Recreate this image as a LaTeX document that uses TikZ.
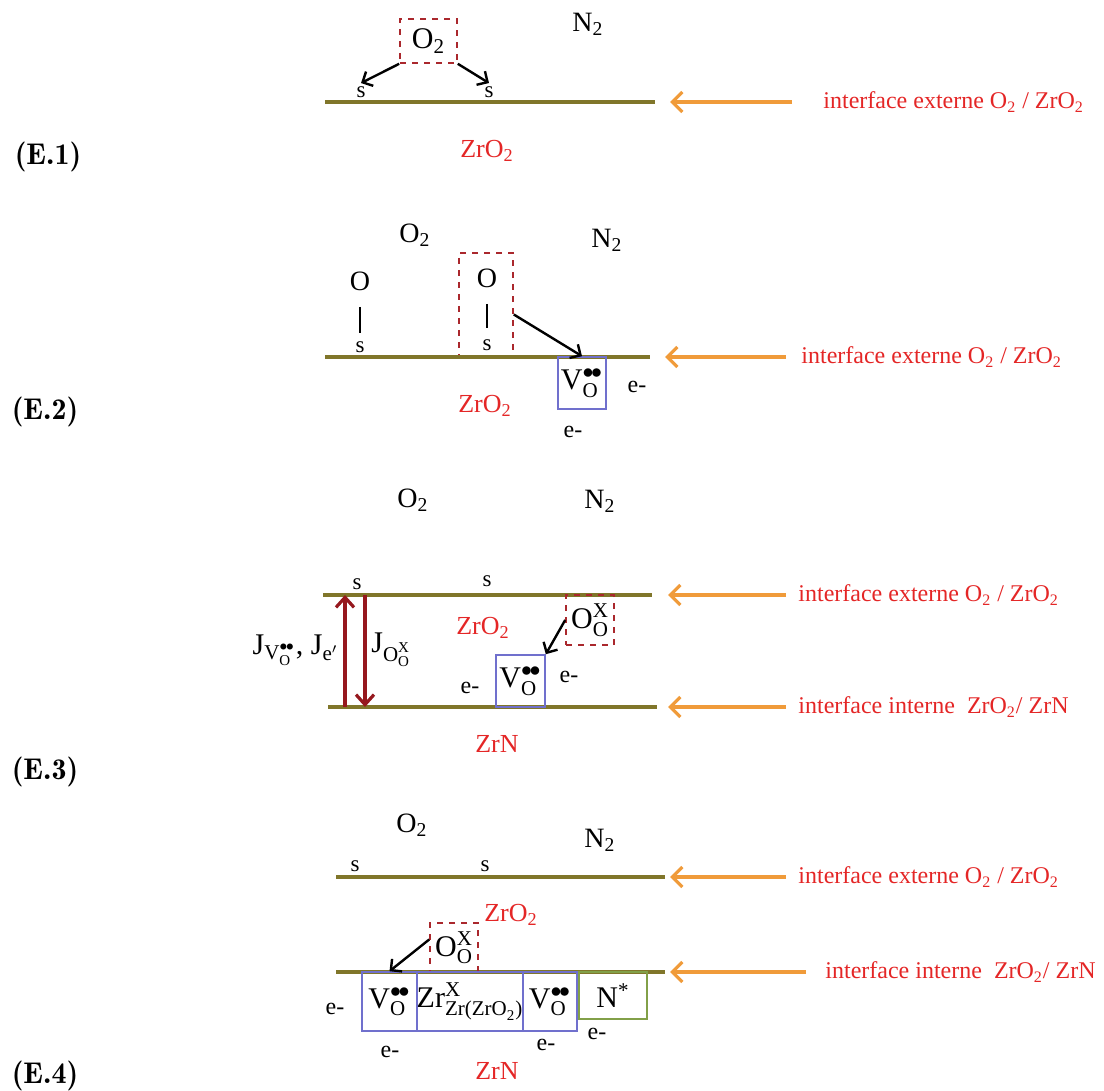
\documentclass[tikz,border=0pt]{standalone}
\usepackage{fontspec}
\usepackage{amsmath}
\setmainfont{Liberation Serif}
\usetikzlibrary{arrows.meta,positioning}
\definecolor{phred}{RGB}{228,38,38}
\definecolor{surfolive}{RGB}{128,118,42}
\definecolor{ifor}{RGB}{240,155,58}
\definecolor{dashred}{RGB}{170,40,45}
\definecolor{vacblue}{RGB}{112,112,205}
\definecolor{nitgreen}{RGB}{130,160,72}
\definecolor{fluxred}{RGB}{150,24,30}
\newcommand{\twodots}{\bullet\mkern-2mu\bullet}
\newcommand{\vacO}{\ensuremath{\text{V}^{\twodots}_{\text{O}}}}
\newcommand{\oxO}{\ensuremath{\text{O}^{\text{X}}_{\text{O}}}}
\tikzset{
  gas/.style={font=\fontsize{14}{16}\selectfont},
  site/.style={font=\fontsize{11.5}{13}\selectfont, inner sep=1.5pt},
  elec/.style={font=\fontsize{12}{14}\selectfont},
  phase/.style={text=phred, font=\fontsize{13}{15}\selectfont},
  iflabel/.style={text=phred, anchor=west, inner sep=0pt,
                  font=\fontsize{12}{15}\selectfont},
  stage/.style={font=\fontfamily{lmr}\bfseries\fontsize{15}{17}\selectfont},
  surf/.style={draw=surfolive, line width=2pt},
  ifarr/.style={draw=ifor, line width=1.6pt,
                -{Straight Barb[length=5pt,width=10pt]}},
  react/.style={draw=black, line width=1.2pt,
                -{Straight Barb[length=4pt,width=8pt]}},
  flux/.style={draw=fluxred, line width=1.6pt,
               -{Straight Barb[length=5pt,width=9pt]}},
  bond/.style={line width=1.2pt},
  spec/.style={inner sep=0pt, font=\fontsize{15}{17}\selectfont},
  dbox/.style={spec, draw=dashred, dashed, line width=0.8pt},
  vbox/.style={spec, draw=vacblue, line width=0.8pt},
  nbox/.style={spec, draw=nitgreen, line width=0.8pt}
}
\begin{document}
\begin{tikzpicture}[x=0.5pt,y=-0.5pt]
  \useasboundingbox (0,0) rectangle (1104,1091);

  % (E.1) dissociative adsorption of O2
  \node[stage] (e1) at (48,157) {(E.1)};
  \node[dbox, minimum width=28.5pt, minimum height=22pt] (o2a) at (428.5,41) {O\textsubscript{2}};
  \node[gas] (n2a) at (588,24) {N\textsubscript{2}};
  \node[site] (s1a) at (361,92) {s};
  \node[site] (s1b) at (489,92) {s};
  \draw[react] (o2a.south west) -- (s1a.north);
  \draw[react] (o2a.south east) -- (s1b.north);
  \coordinate (l1w) at (325,102);
  \coordinate (l1e) at (655,102);
  \draw[surf] (l1w) -- (l1e);
  \node[phase] (zr1) at (487,151) {ZrO\textsubscript{2}};
  \node[iflabel] (if1) at (823,102) {interface externe O\textsubscript{2} / ZrO\textsubscript{2}};
  \coordinate (t1) at (792,102);
  \draw[ifarr] (t1) -- (670,102);

  % (E.2) incorporation of adsorbed O
  \node[stage] (e2) at (45,412) {(E.2)};
  \node[gas] (o2b) at (415,235) {O\textsubscript{2}};
  \node[gas] (n2b) at (607,240) {N\textsubscript{2}};
  \node[gas, inner sep=1pt] (oa) at (360,281) {O};
  \node[site] (sa) at (360,347) {s};
  \draw[bond] (360,307) -- (360,333);
  \node[dbox, minimum width=27pt, minimum height=51.5pt] (obox) at (486,304.5) {};
  \node[gas, inner sep=1pt] (ob) at (487,278) {O};
  \node[site] (sb) at (487,345) {s};
  \draw[bond] (487,304) -- (487,328);
  \coordinate (l2w) at (325,357);
  \coordinate (l2e) at (650,357);
  \draw[surf] (l2w) -- (l2e);
  \node[vbox, minimum width=24pt, minimum height=26pt] (v2) at (582,383) {\vacO};
  \draw[react] ([yshift=-5pt]obox.east) -- (v2.north);
  \node[elec] (e2a) at (637,387) {e-};
  \node[elec] (e2b) at (573,432) {e-};
  \node[phase] (zr2) at (485,406) {ZrO\textsubscript{2}};
  \node[iflabel] (if2) at (801,357) {interface externe O\textsubscript{2} / ZrO\textsubscript{2}};
  \coordinate (t2) at (786,357);
  \draw[ifarr] (t2) -- (665,357);

  % (E.3) transport through the oxide layer
  \node[stage] (e3) at (45,772) {(E.3)};
  \node[gas] (o2c) at (413,500) {O\textsubscript{2}};
  \node[gas] (n2c) at (600,501) {N\textsubscript{2}};
  \coordinate (l3w) at (323,595);
  \coordinate (l3e) at (652,595);
  \coordinate (l4w) at (328,707);
  \coordinate (l4e) at (657,707);
  \draw[surf] (l3w) -- (l3e);
  \draw[surf] (l4w) -- (l4e);
  \node[site] (sc) at (357,584) {s};
  \node[site] (sd) at (487,581) {s};
  \draw[flux] (345,707) -- (345,595);
  \draw[flux] (365,595) -- (365,707);
  \node[font=\fontsize{15}{17}\selectfont, anchor=east, inner sep=0pt] (jv) at (339,650)
       {\ensuremath{\text{J}_{\text{V}^{\twodots}_{\text{O}}}\text{, J}_{\text{e}'}}};
  \node[font=\fontsize{15}{17}\selectfont, anchor=west, inner sep=0pt] (jo) at (371,650)
       {\ensuremath{\text{J}_{\text{O}^{\text{X}}_{\text{O}}}}};
  \node[phase] (zr3) at (483,628) {ZrO\textsubscript{2}};
  \node[dbox, minimum width=24pt, minimum height=25pt] (ox3) at (590,620) {\oxO};
  \node[vbox, minimum width=24.5pt, minimum height=26pt] (v3) at (520.5,681) {\vacO};
  \draw[react] (ox3.west) -- (v3.north east);
  \node[elec] (e3a) at (470,688) {e-};
  \node[elec] (e3b) at (569,677) {e-};
  \node[phase] (zn3) at (497,744) {ZrN};
  \node[iflabel] (if3) at (798,595) {interface externe O\textsubscript{2} / ZrO\textsubscript{2}};
  \node[iflabel] (if4) at (798,707) {interface interne\ \ ZrO\textsubscript{2}/ ZrN};
  \coordinate (t3) at (786,595);
  \coordinate (t4) at (786,707);
  \draw[ifarr] (t3) -- (668,595);
  \draw[ifarr] (t4) -- (668,707);

  % (E.4) reaction at the inner interface
  \node[stage] (e4) at (45,1076) {(E.4)};
  \node[gas] (o2d) at (412,825) {O\textsubscript{2}};
  \node[gas] (n2d) at (600,840) {N\textsubscript{2}};
  \node[site] (se) at (355,866) {s};
  \node[site] (sf) at (485,866) {s};
  \coordinate (l5w) at (336,877);
  \coordinate (l5e) at (665,877);
  \coordinate (l6w) at (336,972);
  \coordinate (l6e) at (665,972);
  \draw[surf] (l5w) -- (l5e);
  \draw[surf] (l6w) -- (l6e);
  \node[phase] (zr4) at (511,915) {ZrO\textsubscript{2}};
  \node[dbox, minimum width=24pt, minimum height=24.5pt] (ox4) at (454,947.5) {\oxO};
  \node[vbox, minimum width=27.5pt, minimum height=29.5pt] (v4a) at (389.5,1001.5) {\vacO};
  \node[vbox, minimum width=53pt, minimum height=29.5pt] (zr4b) at (470,1001.5)
       {\ensuremath{\text{Zr}^{\text{X}}_{\text{Zr(ZrO}_{\text{2}}\text{)}}}};
  \node[vbox, minimum width=27pt, minimum height=29.5pt] (v4b) at (550,1001.5) {\vacO};
  \node[nbox, minimum width=34pt, minimum height=23.5pt] (ns) at (613,995.5) {N\textsuperscript{*}};
  \draw[react] ([yshift=4pt]ox4.west) -- (v4a.north);
  \node[elec] (e4a) at (335,1009) {e-};
  \node[elec] (e4b) at (390,1052) {e-};
  \node[elec] (e4c) at (546,1045) {e-};
  \node[elec] (e4d) at (597,1034) {e-};
  \node[phase] (zn4) at (497,1071) {ZrN};
  \node[iflabel] (if5) at (798,877) {interface externe O\textsubscript{2} / ZrO\textsubscript{2}};
  \node[iflabel] (if6) at (825,972) {interface interne\ \ ZrO\textsubscript{2}/ ZrN};
  \coordinate (t5) at (786,877);
  \coordinate (t6) at (806,972);
  \draw[ifarr] (t5) -- (670,877);
  \draw[ifarr] (t6) -- (670,972);
\end{tikzpicture}
\end{document}
